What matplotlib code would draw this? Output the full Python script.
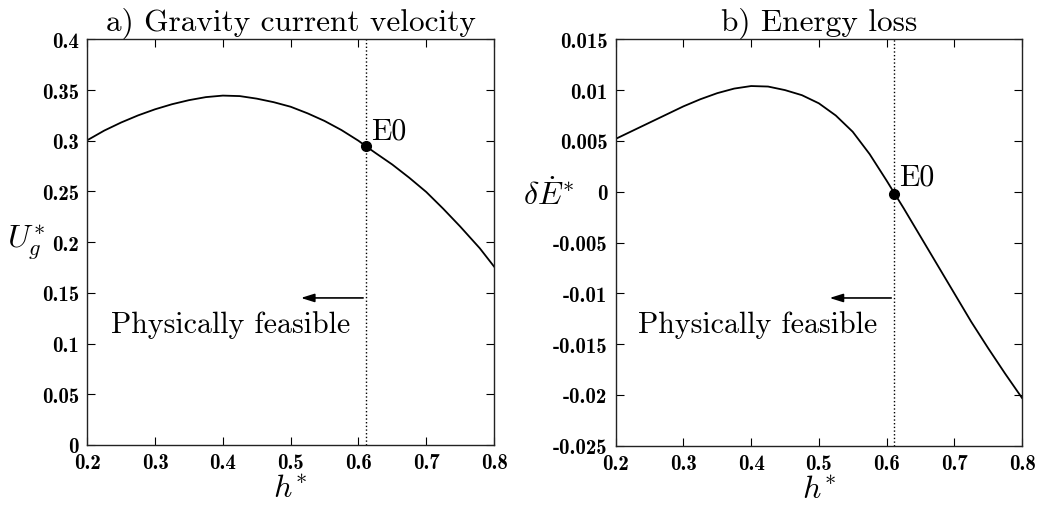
import matplotlib
matplotlib.use("Agg")
import matplotlib.pyplot as plt

plt.rcParams['mathtext.fontset'] = 'cm'
plt.rcParams['axes.unicode_minus'] = False

# a) gravity current velocity
h_u = [0.2, 0.225, 0.25, 0.275, 0.3, 0.325, 0.35, 0.375, 0.4, 0.425, 0.45, 0.475,
       0.5, 0.525, 0.55, 0.575, 0.6, 0.611, 0.625, 0.65, 0.675, 0.7, 0.725, 0.75,
       0.779, 0.8]
U_g = [0.3005, 0.310, 0.318, 0.325, 0.331, 0.336, 0.340, 0.343, 0.3445, 0.344,
       0.3415, 0.338, 0.3335, 0.327, 0.3195, 0.3105, 0.300, 0.2946, 0.288, 0.2765,
       0.2635, 0.2495, 0.233, 0.2155, 0.194, 0.176]

# b) energy loss
h_e = [0.2, 0.225, 0.25, 0.275, 0.3, 0.325, 0.35, 0.375, 0.4, 0.425, 0.45, 0.475,
       0.5, 0.525, 0.55, 0.575, 0.6, 0.612, 0.625, 0.65, 0.675, 0.7, 0.725, 0.75,
       0.775, 0.8]
dE = [0.0052, 0.0060, 0.0068, 0.0076, 0.0084, 0.0091, 0.0097, 0.01015, 0.0104,
      0.01035, 0.0100, 0.0095, 0.0087, 0.0075, 0.0059, 0.0037, 0.0011, -0.0002,
      -0.0016, -0.0044, -0.0072, -0.0100, -0.0128, -0.0154, -0.0179, -0.0203]

h_E0 = 0.611
U_E0 = 0.2946
dE_E0 = -0.0002

xticks = [0.2, 0.3, 0.4, 0.5, 0.6, 0.7, 0.8]
xticklabels = ['0.2', '0.3', '0.4', '0.5', '0.6', '0.7', '0.8']
uticks = [0, 0.05, 0.1, 0.15, 0.2, 0.25, 0.3, 0.35, 0.4]
uticklabels = ['0', '0.05', '0.1', '0.15', '0.2', '0.25', '0.3', '0.35', '0.4']
eticks = [-0.025, -0.02, -0.015, -0.01, -0.005, 0, 0.005, 0.01, 0.015]
eticklabels = ['-0.025', '-0.02', '-0.015', '-0.01', '-0.005', '0', '0.005', '0.01', '0.015']

fig = plt.figure(figsize=(10.38, 5.06), dpi=100)
ax1 = fig.add_axes([87.3/1038, 1 - 446/506, (494 - 87.3)/1038, (446 - 40.3)/506])
ax2 = fig.add_axes([615.7/1038, 1 - 446.7/506, (1022 - 615.7)/1038, (446.7 - 40.3)/506])

tick_font = dict(family='cmb10', size=15)
txt_font = dict(family='cmr10', size=21.5)
title_font = dict(family='cmr10', size=22.5)


def style(ax, yticks, yticklabels):
    ax.set_xlim(0.2, 0.8)
    ax.set_xticks(xticks)
    ax.set_xticklabels(xticklabels, fontdict=tick_font)
    ax.set_yticks(yticks)
    ax.set_yticklabels(yticklabels, fontdict=tick_font)
    ax.set_ylim(yticks[0], yticks[-1])
    ax.tick_params(direction='in', length=6, width=0.8, top=True, right=True, pad=6)
    for s in ax.spines.values():
        s.set_linewidth(1.0)
        s.set_color('#222222')
    ax.set_xlabel(r'$h^{\!*}$', fontsize=23, labelpad=0)


# left panel
ax1.plot(h_u, U_g, color='black', lw=1.3)
ax1.axvline(h_E0, color='black', lw=1.0, ls=':')
ax1.plot(h_E0, U_E0, 'o', color='black', ms=7)
ax1.text(h_E0 + 0.007, U_E0 + 0.002, 'E0', fontdict=txt_font, va='bottom')
ax1.annotate('', xy=(0.511, 0.145), xytext=(h_E0, 0.145),
             arrowprops=dict(arrowstyle='-|>,head_length=0.8,head_width=0.25',
                             color='black', lw=1.2))
ax1.text(0.5875, 0.1114, 'Physically feasible', fontdict=txt_font, ha='right', va='baseline')
ax1.set_title('a) Gravity current velocity', fontdict=title_font, pad=7)
style(ax1, uticks, uticklabels)
ax1.text(-0.15, 0.5, r'$U_g^{\!*}$', fontsize=23, transform=ax1.transAxes, ha='center', va='center')

# right panel
ax2.plot(h_e, dE, color='black', lw=1.3)
ax2.axvline(h_E0, color='black', lw=1.0, ls=':')
ax2.plot(h_E0, dE_E0, 'o', color='black', ms=7)
ax2.text(h_E0 + 0.007, dE_E0 + 0.0003, 'E0', fontdict=txt_font, va='bottom')
ax2.annotate('', xy=(0.5117, -0.01046), xytext=(h_E0, -0.01046),
             arrowprops=dict(arrowstyle='-|>,head_length=0.8,head_width=0.25',
                             color='black', lw=1.2))
ax2.text(0.586, -0.0138, 'Physically feasible', fontdict=txt_font, ha='right', va='baseline')
ax2.set_title('b) Energy loss', fontdict=title_font, pad=7)
style(ax2, eticks, eticklabels)
ax2.text(-0.165, 0.617, r'$\delta\dot{E}^{\!*}$', fontsize=23, transform=ax2.transAxes, ha='center', va='center')

fig.savefig('out.png', dpi=100)
